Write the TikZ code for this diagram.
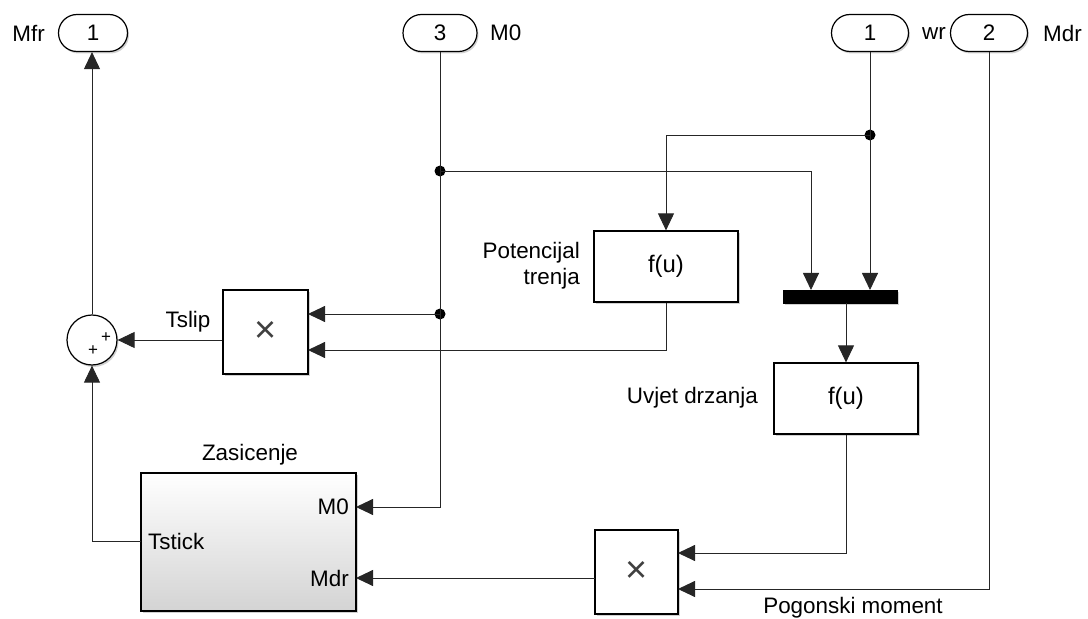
\documentclass[tikz,border=0pt]{standalone}
\usepackage{fontspec}
\setmainfont{Liberation Sans}
\usetikzlibrary{arrows.meta,shapes.misc,shadows}
\begin{document}
\begin{tikzpicture}[x=1bp,y=-1bp,
  every node/.style={font=\fontsize{22.5}{26}\selectfont},
  shad/.style={drop shadow={shadow xshift=1.5bp,shadow yshift=-2bp,opacity=0.3,fill=black!60}},
  port/.style={rounded rectangle, draw, line width=1.2bp, minimum height=37bp, inner sep=0pt, fill=white, shad},
  blk/.style={draw, line width=1.2bp, fill=white, inner sep=0pt, shad},
  wire/.style={line width=0.9bp, draw=black!85},
  arr/.style={wire, -{Triangle[length=17bp,width=16bp]}},
  jdot/.style={circle, fill=black, inner sep=0pt, minimum size=11bp},
  lbl/.style={inner sep=0pt},
  fu/.style={font=\fontsize{24}{28}\selectfont},
  tms/.style={font=\fontsize{38}{40}\selectfont\color{black!75}},
  pls/.style={lbl, font=\fontsize{17}{18}\selectfont}
]
\useasboundingbox (0,0) rectangle (1088,619);

% ports
\node[port, minimum width=69bp] (out1) at (93,33) {1};
\node[port, minimum width=74bp] (in3) at (440,33) {3};
\node[port, minimum width=77bp] (in1) at (870,33) {1};
\node[port, minimum width=77bp] (in2) at (989,33) {2};
\node[lbl, anchor=east] (lMfr) at (45,33) {Mfr};
\node[lbl, anchor=west] (lM0) at (490,33) {M0};
\node[lbl, anchor=west] (lwr) at (922,33) {wr};
\node[lbl, anchor=west] (lMdr) at (1043,33) {Mdr};

% blocks
\node[blk, circle, minimum size=50bp] (sum) at (92,340) {};
\node[pls] (p1) at (106,338) {+};
\node[pls] (p2) at (93,351) {+};
\node[blk, minimum width=85bp, minimum height=84bp] (prod1) at (265.5,332) {};
\node[tms] (x1) at (prod1) {×};
\node[blk, minimum width=144bp, minimum height=71bp, fu] (pot) at (666,266.5) {f(u)};
\node[draw, fill=black, inner sep=0pt, minimum width=114bp, minimum height=13bp, shad] (mux) at (840,296.5) {};
\node[blk, minimum width=144bp, minimum height=71bp, fu] (uvj) at (846,398.5) {f(u)};
\node[blk, minimum width=83bp, minimum height=84bp] (prod2) at (636.5,572) {};
\node[tms] (x2) at (prod2) {×};
\node[draw, line width=1.2bp, inner sep=0pt, minimum width=215bp, minimum height=138bp,
      top color=white, bottom color=black!17, shad] (zas) at (248.5,542) {};

% labels
\node[lbl] (lTslip) at (188,322) {Tslip};
\node[lbl, anchor=east, align=right] (lpot) at (580,266) {Potencijal\\trenja};
\node[lbl, anchor=east] (luvj) at (758,398) {Uvjet drzanja};
\node[lbl] (lzas) at (250,455) {Zasicenje};
\node[lbl] (lpog) at (853,608) {Pogonski moment};
\node[lbl, anchor=east] (zM0) at (349,507) {M0};
\node[lbl, anchor=east] (zMdr) at (349,578) {Mdr};
\node[lbl, anchor=west] (zT) at (148,541) {Tstick};

% port coordinates
\coordinate (zasM0) at (356,507);
\coordinate (zasMdr) at (356,578);
\coordinate (zasT) at (141,541);
\coordinate (muxA) at (811,290);
\coordinate (muxB) at (870,290);
\coordinate (pr1A) at (308,314);
\coordinate (pr1B) at (308,350);
\coordinate (pr2A) at (678,553);
\coordinate (pr2B) at (678,589);
\coordinate (pr2O) at (595,578);

% junctions
\node[jdot] (j1) at (440,171) {};
\node[jdot] (j2) at (440,314) {};
\node[jdot] (j3) at (870,135) {};

% wires
\draw[arr] (sum.north) -- (sum.north |- out1.south);
\draw[arr] (in3.south) -- (in3.south |- zasM0) -- (zasM0);
\draw[arr] (j1.center) -- (muxA |- j1) -- (muxA);
\draw[arr] (j2.center) -- (pr1A);
\draw[arr] (in1.south) -- (muxB);
\draw[arr] (j3.center) -- (pot.north |- j3) -- (pot.north);
\draw[arr] (pot.south) -- (pot.south |- pr1B) -- (pr1B);
\draw[arr] (prod1.west |- sum.east) -- (sum.east);
\draw[arr] (uvj.north |- mux.south) -- (uvj.north);
\draw[arr] (uvj.south) -- (uvj.south |- pr2A) -- (pr2A);
\draw[arr] (in2.south) -- (in2.south |- pr2B) -- (pr2B);
\draw[arr] (pr2O) -- (zasMdr);
\draw[arr] (zasT) -- (sum.south |- zasT) -- (sum.south);
\end{tikzpicture}
\end{document}
